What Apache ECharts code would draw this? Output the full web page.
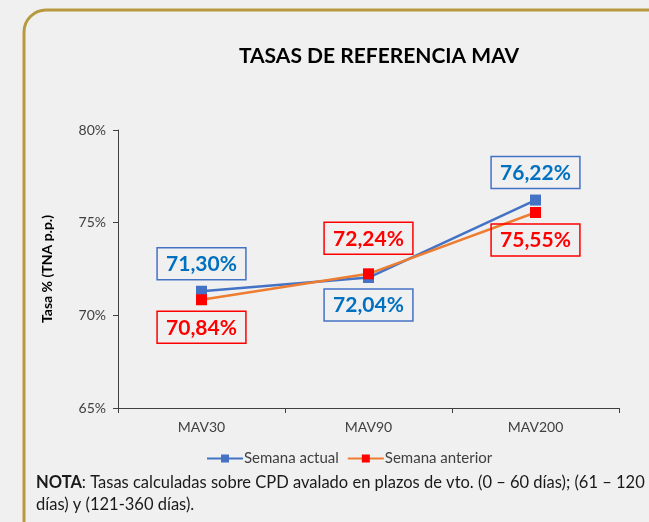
<!DOCTYPE html>
<html>
<head>
<meta charset="utf-8">
<script src="https://cdn.jsdelivr.net/npm/echarts@6/dist/echarts.min.js"></script>
<style>
  html, body { margin: 0; padding: 0; background: #f0f0f0; }
  #chart { width: 649px; height: 522px; }
</style>
</head>
<body>
<div id="chart"></div>
<script>
  var categories = ['MAV30', 'MAV90', 'MAV200'];
  var semanaActual = [71.30, 72.04, 76.22];
  var semanaAnterior = [70.84, 72.24, 75.55];
  var yTicks = { min: 65, max: 80, interval: 5 };

  // where each value box sits relative to its point
  var actualLabelPos = ['top', 'bottom', 'top'];
  var anteriorLabelPos = ['bottom', 'top', 'bottom'];
  var anteriorLabelDist = [6, 14, 6];

  var font = 'Lato';
  var axisColor = '#404040';

  function pct(v) {
    return v.toFixed(2).replace('.', ',') + '%';
  }

  function boxLabel(color, borderColor) {
    return {
      show: true,
      formatter: function (p) { return pct(p.value); },
      fontFamily: font,
      fontSize: 21,
      fontWeight: 'bold',
      color: color,
      borderColor: borderColor,
      borderWidth: 1.5,
      padding: [6, 9, 5, 9],
      distance: 6
    };
  }

  var actualData = semanaActual.map(function (v, i) {
    return { value: v, label: { position: actualLabelPos[i] } };
  });
  var anteriorData = semanaAnterior.map(function (v, i) {
    return { value: v, label: { position: anteriorLabelPos[i], distance: anteriorLabelDist[i] } };
  });

  var chart = echarts.init(document.getElementById('chart'));
  chart.setOption({
    backgroundColor: '#f0f0f0',
    animation: false,
    title: {
      text: 'TASAS DE REFERENCIA MAV',
      left: 374,
      top: 41,
      textAlign: 'center',
      textStyle: {
        fontFamily: font,
        fontSize: 21,
        fontWeight: 'bold',
        color: '#000'
      }
    },
    legend: {
      left: 201,
      top: 446,
      itemWidth: 36,
      itemHeight: 10,
      itemGap: 8,
      textStyle: {
        fontFamily: font,
        fontSize: 15,
        color: axisColor,
        padding: [0, 0, 0, -4]
      },
      data: ['Semana actual', 'Semana anterior']
    },
    grid: {
      left: 118,
      right: 30,
      top: 130,
      bottom: 114
    },
    xAxis: {
      type: 'category',
      data: categories,
      boundaryGap: true,
      axisLine: { lineStyle: { color: axisColor, width: 1 } },
      axisTick: { show: true, length: 5, inside: false, lineStyle: { color: axisColor } },
      axisLabel: {
        margin: 12,
        fontFamily: font,
        fontSize: 14,
        color: axisColor
      },
      splitLine: { show: false }
    },
    yAxis: {
      type: 'value',
      min: yTicks.min,
      max: yTicks.max,
      interval: yTicks.interval,
      name: 'Tasa % (TNA p.p.)',
      nameLocation: 'middle',
      nameGap: 64,
      nameRotate: 90,
      nameTextStyle: {
        fontFamily: font,
        fontSize: 14,
        fontWeight: 'bold',
        color: '#000'
      },
      axisLine: { show: true, lineStyle: { color: axisColor, width: 1 } },
      axisTick: { show: true, length: 5, lineStyle: { color: axisColor } },
      axisLabel: {
        margin: 12,
        fontFamily: font,
        fontSize: 14,
        color: axisColor,
        formatter: '{value}%'
      },
      splitLine: { show: false }
    },
    series: [
      {
        name: 'Semana actual',
        type: 'line',
        data: actualData,
        symbol: 'rect',
        symbolSize: 11,
        itemStyle: { color: '#4472c4' },
        lineStyle: { color: '#4472c4', width: 2.5 },
        label: boxLabel('#0070c0', '#4472c4'),
        z: 2
      },
      {
        name: 'Semana anterior',
        type: 'line',
        data: anteriorData,
        symbol: 'rect',
        symbolSize: 11,
        itemStyle: { color: '#ff0000' },
        lineStyle: { color: '#ed7d31', width: 2.5 },
        label: boxLabel('#ff0000', '#ff0000'),
        z: 3
      }
    ],
    graphic: [
      {
        type: 'rect',
        shape: { x: 24, y: 10, width: 720, height: 560, r: 22 },
        style: { fill: 'none', stroke: '#b89a3e', lineWidth: 3 },
        silent: true
      },
      {
        type: 'text',
        left: 36,
        top: 472,
        style: {
          text: '{b|NOTA}: Tasas calculadas sobre CPD avalado en plazos de vto. (0 – 60 días); (61 – 120\ndías) y (121-360 días).',
          fontFamily: font,
          fontSize: 16.5,
          lineHeight: 22,
          fill: '#1a1a1a',
          rich: {
            b: { fontFamily: font, fontSize: 16.5, fontWeight: 'bold', fill: '#1a1a1a' }
          }
        }
      }
    ]
  });
</script>
</body>
</html>
